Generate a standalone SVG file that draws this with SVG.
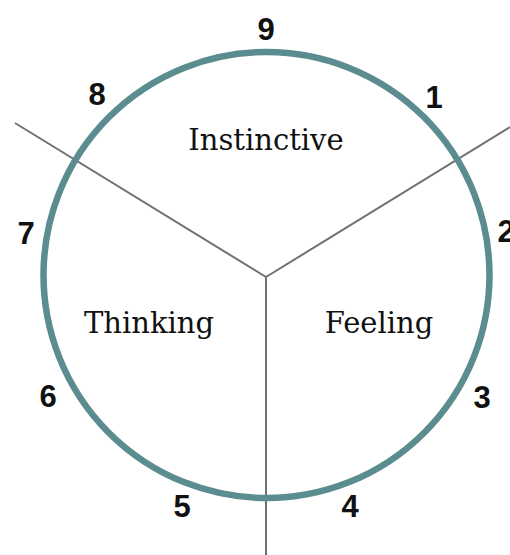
<svg xmlns="http://www.w3.org/2000/svg" width="510" height="555" viewBox="0 0 510 555">
<style>
.num{font-family:"Liberation Sans",Arial,sans-serif;font-weight:bold;font-size:31px;fill:#111;text-anchor:middle}
.lbl{font-family:"DejaVu Serif",serif;font-size:29px;fill:#111;text-anchor:middle}
.div{stroke:#707070;stroke-width:2;fill:none}
</style>
<rect width="510" height="555" fill="#fff"/>
<g id="connectors">
<line class="div" x1="266" y1="277" x2="15" y2="123"/>
<line class="div" x1="266" y1="277" x2="510" y2="127"/>
<line class="div" x1="266" y1="277" x2="266" y2="555"/>
</g>
<g id="circle"><circle cx="266.5" cy="275" r="223" fill="none" stroke="#5b8c8f" stroke-width="6.5"/></g>
<g id="instinctive"><text class="lbl" x="266" y="150">Instinctive</text></g>
<g id="thinking"><text class="lbl" x="149" y="333">Thinking</text></g>
<g id="feeling"><text class="lbl" x="379" y="333">Feeling</text></g>
<g id="numbers">
<text class="num" x="266" y="40">9</text>
<text class="num" x="434" y="108">1</text>
<text class="num" x="506" y="242">2</text>
<text class="num" x="482" y="408">3</text>
<text class="num" x="350" y="517">4</text>
<text class="num" x="182" y="517">5</text>
<text class="num" x="48" y="407">6</text>
<text class="num" x="26" y="244">7</text>
<text class="num" x="97" y="105">8</text>
</g>
</svg>
